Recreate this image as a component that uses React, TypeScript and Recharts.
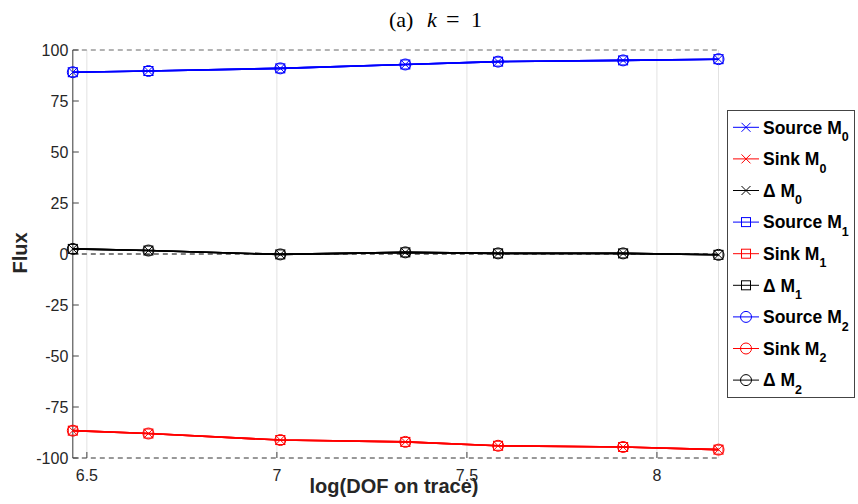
import { LineChart, Line, XAxis, YAxis, CartesianGrid, ReferenceLine } from 'recharts'

// log(DOF on trace) at each refinement level
const logDof = [6.463, 6.662, 7.009, 7.338, 7.582, 7.911, 8.162]

// flux per moment (the three moments overlap in the picture)
const sourceM0 = [89.1, 89.7, 91.0, 92.9, 94.3, 94.9, 95.5]
const sinkM0 = [-86.6, -88.0, -91.2, -92.1, -94.0, -94.6, -95.9]
const deltaM0 = [2.5, 1.7, -0.2, 0.8, 0.3, 0.3, -0.4]
const sourceM1 = [89.1, 89.7, 91.0, 92.9, 94.3, 94.9, 95.5]
const sinkM1 = [-86.6, -88.0, -91.2, -92.1, -94.0, -94.6, -95.9]
const deltaM1 = [2.5, 1.7, -0.2, 0.8, 0.3, 0.3, -0.4]
const sourceM2 = [89.1, 89.7, 91.0, 92.9, 94.3, 94.9, 95.5]
const sinkM2 = [-86.6, -88.0, -91.2, -92.1, -94.0, -94.6, -95.9]
const deltaM2 = [2.5, 1.7, -0.2, 0.8, 0.3, 0.3, -0.4]

const xTicks = [6.5, 7, 7.5, 8]
const yTicks = [-100, -75, -50, -25, 0, 25, 50, 75, 100]

type Shape = 'cross' | 'square' | 'circle'
type Series = { key: string; label: string; sub: string; color: string; shape: Shape; values: number[] }

const series: Series[] = [
  { key: 'srcM0', label: 'Source M', sub: '0', color: '#0000ff', shape: 'cross', values: sourceM0 },
  { key: 'snkM0', label: 'Sink M', sub: '0', color: '#ff0000', shape: 'cross', values: sinkM0 },
  { key: 'dM0', label: '\u0394 M', sub: '0', color: '#000000', shape: 'cross', values: deltaM0 },
  { key: 'srcM1', label: 'Source M', sub: '1', color: '#0000ff', shape: 'square', values: sourceM1 },
  { key: 'snkM1', label: 'Sink M', sub: '1', color: '#ff0000', shape: 'square', values: sinkM1 },
  { key: 'dM1', label: '\u0394 M', sub: '1', color: '#000000', shape: 'square', values: deltaM1 },
  { key: 'srcM2', label: 'Source M', sub: '2', color: '#0000ff', shape: 'circle', values: sourceM2 },
  { key: 'snkM2', label: 'Sink M', sub: '2', color: '#ff0000', shape: 'circle', values: sinkM2 },
  { key: 'dM2', label: '\u0394 M', sub: '2', color: '#000000', shape: 'circle', values: deltaM2 },
]

const data = logDof.map((x, i) => {
  const row: Record<string, number> = { x }
  series.forEach((s) => (row[s.key] = s.values[i]))
  return row
})

function Marker({ cx, cy, color, shape }: { cx: number; cy: number; color: string; shape: Shape }) {
  if (shape === 'cross') {
    const h = 4.5
    return <path d={`M${cx - h},${cy - h}L${cx + h},${cy + h}M${cx + h},${cy - h}L${cx - h},${cy + h}`} stroke={color} strokeWidth={1} fill="none" />
  }
  if (shape === 'square') {
    return <rect x={cx - 4.5} y={cy - 4.5} width={9} height={9} stroke={color} strokeWidth={1} fill="none" />
  }
  return <circle cx={cx} cy={cy} r={5.5} stroke={color} strokeWidth={1} fill="none" />
}

const dotFor = (s: Series) => (p: any) => (
  <g key={`${s.key}-${p.index}`}>
    <Marker cx={p.cx} cy={p.cy} color={s.color} shape={s.shape} />
  </g>
)

const tickStyle = { fontFamily: 'Liberation Sans, Arial, sans-serif', fontSize: 16, fill: '#262626' }
const axisColor = '#444444'

export default function App() {
  return (
    <div style={{ position: 'absolute', left: 0, top: 0, width: 858, height: 504, background: '#fff' }}>
      <LineChart width={858} height={504} data={data} margin={{ top: 50, right: 139.5, bottom: 16, left: 12.8 }}>
        <CartesianGrid vertical horizontal={false} stroke="#e2e2e2" />
        <XAxis
          dataKey="x"
          type="number"
          domain={[6.463, 8.162]}
          ticks={xTicks}
          height={30}
          axisLine={false}
          tickSize={-6}
          tickMargin={18}
          tickLine={{ stroke: axisColor }}
          tick={tickStyle}
        />
        <XAxis
          xAxisId="top"
          orientation="top"
          type="number"
          domain={[6.463, 8.162]}
          ticks={xTicks}
          height={0}
          axisLine={false}
          tickSize={-6}
          tickLine={{ stroke: axisColor }}
          tick={false}
        />
        <YAxis
          type="number"
          domain={[-100, 100]}
          ticks={yTicks}
          width={60}
          axisLine={{ stroke: axisColor }}
          tickSize={-6}
          tickMargin={10.5}
          tickLine={{ stroke: axisColor }}
          tick={tickStyle}
        />
        <YAxis
          yAxisId="right"
          orientation="right"
          type="number"
          domain={[-100, 100]}
          ticks={yTicks}
          width={0}
          axisLine={{ stroke: axisColor }}
          tickSize={-6}
          tickLine={{ stroke: axisColor }}
          tick={false}
        />
        <ReferenceLine y={100} stroke="#666" strokeDasharray="5 4" />
        <ReferenceLine y={-100} stroke="#333" strokeDasharray="5 4" />
        <ReferenceLine y={0} stroke="#000" strokeDasharray="5 4" />
        {series.map((s) => (
          <Line
            key={s.key}
            dataKey={s.key}
            stroke={s.color}
            strokeWidth={1.6}
            type="linear"
            dot={dotFor(s)}
            activeDot={false}
            isAnimationActive={false}
          />
        ))}
      </LineChart>
      <svg width={858} height={504} style={{ position: 'absolute', left: 0, top: 0, pointerEvents: 'none' }}>
        <text y={26.5} fontFamily="Liberation Serif, serif" fontSize={22} fill="#000">
          <tspan x={389}>(a)</tspan>
          <tspan x={427} fontStyle="italic">k</tspan>
          <tspan x={446} fontSize={24}>=</tspan>
          <tspan x={471}>1</tspan>
        </text>
        <text x={394} y={493} textAnchor="middle" fontFamily="Liberation Sans, Arial, sans-serif" fontWeight="bold" fontSize={20} fill="#262626">
          log(DOF on trace)
        </text>
        <text
          x={0}
          y={0}
          transform="translate(27,253) rotate(-90)"
          textAnchor="middle"
          fontFamily="Liberation Sans, Arial, sans-serif"
          fontWeight="bold"
          fontSize={20}
          fill="#262626"
        >
          Flux
        </text>
        <rect x={727.5} y={110.5} width={127} height={287} fill="#fff" stroke="#444" strokeWidth={1} />
        {series.map((s, i) => {
          const cy = 127.3 + i * 31.6
          return (
            <g key={s.key}>
              <line x1={733} x2={759} y1={cy} y2={cy} stroke={s.color} strokeWidth={1} />
              <Marker cx={746} cy={cy} color={s.color} shape={s.shape} />
              <text x={763} y={cy + 6.3} fontFamily="Liberation Sans, Arial, sans-serif" fontWeight="bold" fontSize={17.5} fill="#000">
                {s.label}
                <tspan fontSize={12.5} dy={7.4}>{s.sub}</tspan>
              </text>
            </g>
          )
        })}
      </svg>
    </div>
  )
}
